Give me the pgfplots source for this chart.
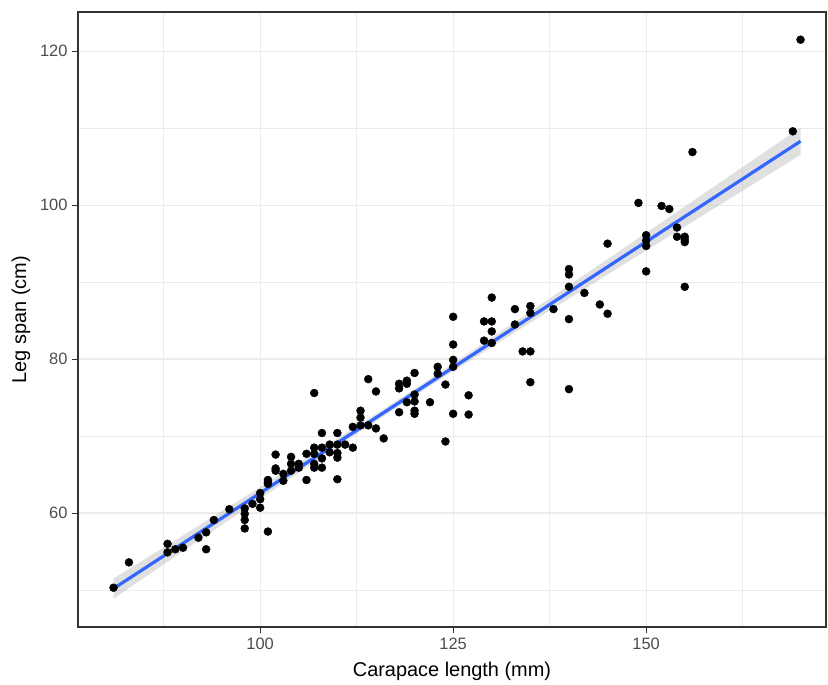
\documentclass[border=0pt]{standalone}
\usepackage{pgfplots}
\pgfplotsset{compat=1.18}
\usepackage{fontspec}
\setmainfont{Liberation Sans}
\definecolor{gridc}{HTML}{EBEBEB}
\definecolor{linec}{HTML}{3366FF}
\definecolor{tickc}{HTML}{4D4D4D}
\definecolor{borderc}{HTML}{333333}

\pgfplotstableread{
x y
81 50.3
83 53.6
88 56.0
88 54.9
89 55.3
90 55.5
92 56.8
93 55.3
93 57.5
94 59.1
96 60.5
98 60.6
98 59.9
98 59.1
98 58.0
99 61.2
100 62.6
100 61.8
100 60.7
101 57.6
101 64.0
101 63.8
101 64.3
102 67.6
102 65.8
102 65.5
103 64.2
103 65.1
104 67.3
104 66.4
104 65.5
105 66.4
105 65.9
106 67.7
106 64.3
107 75.6
107 68.5
107 67.7
107 66.4
107 65.9
108 70.4
108 68.5
108 67.1
108 65.9
109 68.9
109 67.9
110 70.4
110 68.9
110 67.8
110 67.2
110 64.4
111 68.9
112 71.2
112 68.5
113 73.3
113 72.4
113 71.4
114 77.4
114 71.4
115 75.8
115 71.0
116 69.7
118 76.8
118 76.2
118 73.1
119 77.2
119 76.8
119 74.4
120 73.3
120 78.2
120 75.4
120 74.5
120 72.9
122 74.4
123 79.0
123 78.1
124 76.7
124 69.3
125 85.5
125 81.9
125 79.9
125 79.0
125 72.9
127 75.3
127 72.8
129 84.9
129 82.4
130 88.0
130 84.9
130 83.6
130 82.1
133 86.5
133 84.5
134 81.0
135 86.9
135 86.0
135 81.0
135 77.0
138 86.5
140 91.7
140 91.0
140 89.4
140 85.2
140 76.1
142 88.6
144 87.1
145 95.0
145 85.9
149 100.3
150 96.1
150 95.4
150 94.7
150 91.4
152 99.9
153 99.5
154 97.1
154 95.9
155 95.9
155 95.5
155 95.2
155 89.4
156 106.9
169 109.6
170 121.5
}\crabs

\begin{document}
\begin{tikzpicture}[x=1bp,y=1bp]
\useasboundingbox (-78,-58) rectangle (750,627);
\begin{axis}[
  at={(0,0)}, anchor=south west,
  scale only axis, width=748bp, height=615bp,
  xmin=76.4, xmax=173.3, ymin=45.2, ymax=125.1,
  xtick={100,125,150}, minor xtick={87.5,112.5,137.5,162.5},
  ytick={60,80,100,120}, minor ytick={50,70,90,110},
  grid=both,
  major grid style={gridc, line width=1.3bp},
  minor grid style={gridc, line width=0.65bp},
  axis line style={borderc, line width=1.4bp},
  tick pos=left, tick align=outside,
  major tick length=6bp, minor tick length=0pt,
  major tick style={borderc, line width=1.1bp},
  /pgf/number format/assume math mode=true,
  ticklabel style={font=\fontsize{16.5}{16.5}\selectfont, text=tickc},
  xticklabel style={yshift=-2bp},
  yticklabel style={xshift=-1bp},
  xlabel={Carapace length (mm)},
  ylabel={Leg span (cm)},
  label style={font=\fontsize{20}{20}\selectfont, text=black},
  xlabel style={at={(axis description cs:0.5,0)}, anchor=base, yshift=-49.7bp},
  ylabel style={at={(axis description cs:-0.0695,0.5)}, anchor=base, rotate=0},
]
\addplot[only marks, mark=*, mark size=4bp, black] table[x=x,y=y] {\crabs};
\addplot[fill=gray!60, fill opacity=0.4, draw=none] coordinates {
  (81,51.49) (90,57.10) (100,63.35) (110,69.65) (118,74.80) (125,79.44)
  (135,86.18) (145,92.99) (155,99.82) (165,106.67) (170,110.08)
  (170,106.54) (165,103.43) (155,97.22) (145,90.99) (135,84.74)
  (125,78.42) (118,73.90) (110,68.61) (100,61.85) (90,55.04) (81,48.89)
} -- cycle;
\addplot[linec, line width=3.2bp] coordinates {(81,50.19) (170,108.31)};
\end{axis}
\end{tikzpicture}
\end{document}
